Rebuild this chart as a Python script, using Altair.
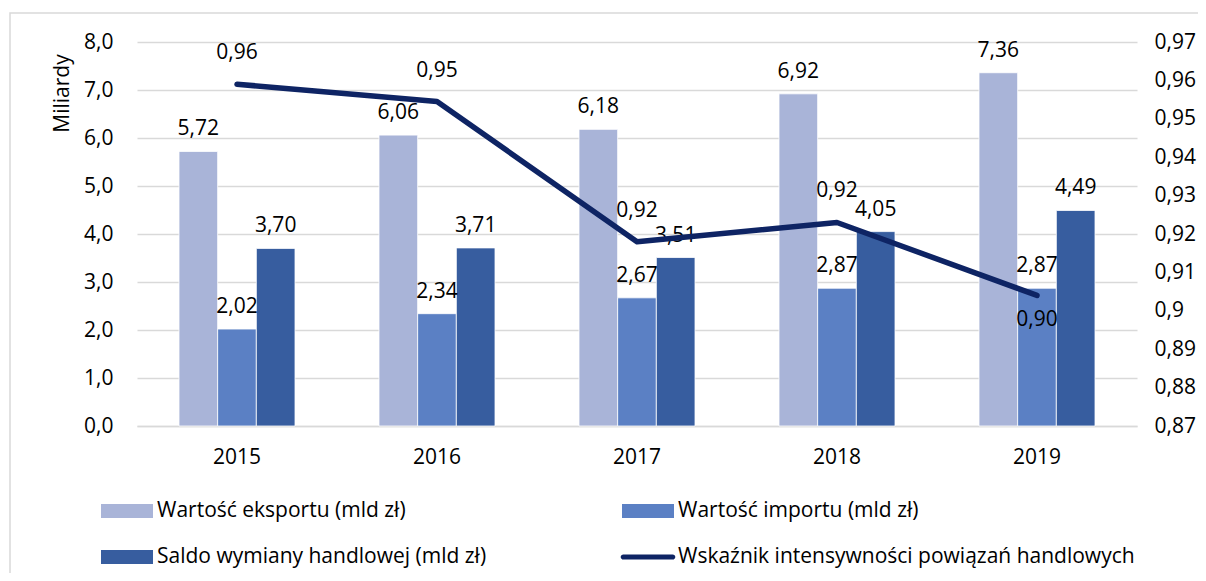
import altair as alt
import pandas as pd

years = ["2015", "2016", "2017", "2018", "2019"]
export_vals = [5.72, 6.06, 6.18, 6.92, 7.36]
import_vals = [2.02, 2.34, 2.67, 2.87, 2.87]
saldo_vals = [3.70, 3.71, 3.51, 4.05, 4.49]
index_vals = [0.959, 0.9545, 0.918, 0.923, 0.904]
index_labels = ["0,96", "0,95", "0,92", "0,92", "0,90"]
right_ticks = [0.87, 0.88, 0.89, 0.9, 0.91, 0.92, 0.93, 0.94, 0.95, 0.96, 0.97]
left_ticks = [0, 1, 2, 3, 4, 5, 6, 7, 8]

series_names = [
    "Wartość eksportu (mld zł)",
    "Wartość importu (mld zł)",
    "Saldo wymiany handlowej (mld zł)",
    "Wskaźnik intensywności powiązań handlowych",
]
bar_colors = ["#A9B4D8", "#5B80C4", "#375D9F"]
line_color = "#0E2464"
FONT = "Open Sans"
FS = 21

rows = []
for name, vals in zip(series_names[:3], [export_vals, import_vals, saldo_vals]):
    for y, v in zip(years, vals):
        rows.append({"year": y, "series": name, "value": v,
                     "label": f"{v:.2f}".replace(".", ",")})
bars_df = pd.DataFrame(rows)
line_df = pd.DataFrame({"year": years, "index": index_vals, "label": index_labels})
legend_df = pd.DataFrame({"year": ["2015"] * 4, "series": series_names, "value": [0] * 4})

xscale = alt.Scale(paddingInner=0.42, paddingOuter=0.21)
x_axis = alt.Axis(labelFont=FONT, labelFontSize=FS, labelColor="#000000",
                  ticks=False, domainColor="#D9D9D9", domainWidth=1.5,
                  labelPadding=20, labelAngle=0, grid=False)
x_enc = alt.X("year:N", title=None, scale=xscale, axis=x_axis)
x_pt = alt.X("year:N", title=None, bandPosition=0.5, scale=xscale, axis=x_axis)
xoff = alt.XOffset("series:N", sort=series_names[:3],
                   scale=alt.Scale(paddingInner=0, paddingOuter=0))
y_left = alt.Scale(domain=[0, 8])
y_right = alt.Scale(domain=[0.87, 0.97])

left_axis = alt.Axis(values=left_ticks,
                     labelExpr="replace(format(datum.value, '.1f'), '.', ',')",
                     labelFont=FONT, labelFontSize=FS, labelColor="#000000",
                     labelPadding=24, ticks=False, domain=False, labelOverlap=False,
                     gridColor="#D9D9D9", gridWidth=1.5,
                     titleFont=FONT, titleFontSize=FS, titleFontWeight="normal",
                     titleColor="#000000", titleAngle=270, titleX=-75, titleY=51,
                     titleAlign="center", titleBaseline="middle")
right_axis = alt.Axis(orient="right", values=right_ticks,
                      labelExpr="replace(format(datum.value, '.2~f'), '.', ',')",
                      labelFont=FONT, labelFontSize=FS, labelColor="#000000",
                      labelPadding=17, ticks=False, domain=False, grid=False,
                      labelOverlap=False, labelBound=False)
y_bar = alt.Y("value:Q", scale=y_left, title="Miliardy", axis=left_axis)
y_line = alt.Y("index:Q", scale=y_right, title=None, axis=right_axis)

frame = alt.Chart(alt.Data(values=[{}])).mark_rect(
    filled=True, fillOpacity=0, stroke="#D9D9D9", strokeWidth=1.5
).encode(x=alt.value(-127), x2=alt.value(1075), y=alt.value(-29), y2=alt.value(600))

bars = alt.Chart(bars_df).mark_bar(stroke="white", strokeWidth=0.8).encode(
    x=x_enc, xOffset=xoff, y=y_bar,
    fill=alt.Fill("series:N", scale=alt.Scale(domain=series_names[:3], range=bar_colors),
                  legend=None),
)

bar_text = alt.Chart(bars_df).mark_text(
    font=FONT, fontSize=FS, color="#000000", baseline="bottom", dy=-12
).encode(x=x_enc, xOffset=xoff, y=y_bar, text="label:N")

leg = alt.Legend(title=None, orient="none", legendX=-36, legendY=443,
                 direction="horizontal", columns=2, columnPadding=133, rowPadding=10,
                 labelFont=FONT, labelFontSize=FS, labelColor="#000000",
                 labelLimit=600, labelOffset=4, padding=0,
                 symbolSize=2704, symbolOpacity=1, symbolStrokeWidth=0)

legend_pts = alt.Chart(legend_df).mark_point(filled=True, opacity=0).encode(
    x=x_enc,
    y=y_bar,
    color=alt.Color("series:N", sort=series_names,
                    scale=alt.Scale(domain=series_names, range=bar_colors + [line_color]),
                    legend=leg),
    shape=alt.Shape("series:N", sort=series_names,
                    scale=alt.Scale(domain=series_names,
                                    range=["M-1,-0.27L1,-0.27L1,0.27L-1,0.27Z"] * 3
                                    + ["M-0.95,-0.1L0.95,-0.1A0.1,0.1 0 0 1 0.95,0.1L-0.95,0.1A0.1,0.1 0 0 1 -0.95,-0.1Z"]),
                    legend=leg),
)

left = alt.layer(bars, bar_text, legend_pts)

line = alt.Chart(line_df).mark_line(color=line_color, strokeWidth=5.5, strokeCap="round",
                                    strokeJoin="round").encode(x=x_pt, y=y_line)

line_text_up = alt.Chart(line_df).transform_filter("datum.year != '2019'").mark_text(
    font=FONT, fontSize=FS, color="#000000", baseline="middle", dy=-31
).encode(x=x_pt, y=y_line, text="label:N")

line_text_down = alt.Chart(line_df).transform_filter("datum.year == '2019'").mark_text(
    font=FONT, fontSize=FS, color="#000000", baseline="middle", dy=25
).encode(x=x_pt, y=y_line, text="label:N")

right = alt.layer(line, line_text_up, line_text_down, frame)

chart = alt.layer(left, right).resolve_scale(y="independent").properties(
    width=1000, height=384,
    background="white",
    autosize=alt.AutoSizeParams(type="none"),
    padding={"left": 129, "top": 34, "right": 61, "bottom": 147},
).configure_view(stroke=None)

chart.save("out.html", embed_options={"renderer": "svg", "actions": False})
